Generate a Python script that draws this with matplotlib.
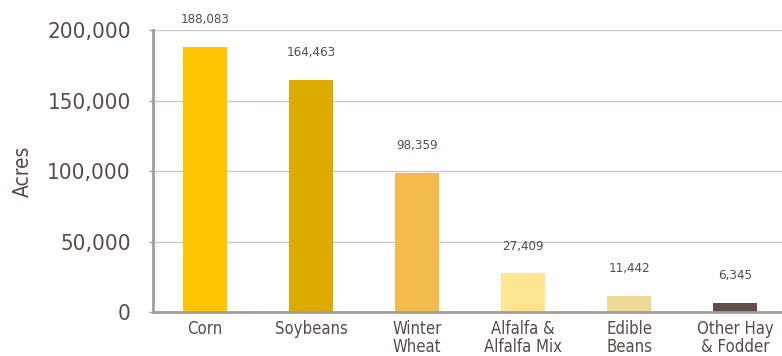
import matplotlib.pyplot as plt
from matplotlib.ticker import FuncFormatter

crops = ["Corn", "Soybeans", "Winter\nWheat", "Alfalfa &\nAlfalfa Mix", "Edible\nBeans", "Other Hay\n& Fodder"]
acres = [188083, 164463, 98359, 27409, 11442, 6345]
colors = ["#FFC600", "#DDAA00", "#F3BB4B", "#FDE591", "#EFDA95", "#5E4F4B"]

txt = "#5a4b48"
grid = "#cdc6c3"
spine = "#a59d9a"

plt.rcParams['font.family'] = ['DejaVu Sans']
plt.rcParams['font.stretch'] = 'condensed'

fig = plt.figure(figsize=(7.82, 3.56), dpi=100)
ax = fig.add_axes([0.1957, 0.1236, 0.8043, 0.7921])

x = range(len(crops))
bars = ax.bar(x, acres, width=0.415, color=colors, zorder=3)

for b, v in zip(bars, acres):
    ax.annotate(f"{v:,}", (b.get_x() + b.get_width() / 2, v), xytext=(0, 15),
                textcoords="offset points", ha="center", va="bottom",
                fontsize=9.5, color=txt)

ax.set_xlim(-0.49, 5.44)
ax.set_ylim(0, 200000)
ax.set_yticks([0, 50000, 100000, 150000, 200000])
ax.yaxis.set_major_formatter(FuncFormatter(lambda v, p: f"{int(v):,}"))
ax.set_xticks(list(x))
ax.set_xticklabels(crops, fontsize=12, color=txt, linespacing=1.0)
ax.tick_params(axis="x", length=0, pad=6)
ax.tick_params(axis="y", labelsize=16, colors=spine, labelcolor=txt, length=3, width=1, pad=13)
ax.set_ylabel("Acres", fontsize=15, color=txt, labelpad=10)

ax.grid(axis="y", color=grid, linewidth=1, zorder=0)
for s in ["top", "right"]:
    ax.spines[s].set_visible(False)
for s in ["left", "bottom"]:
    ax.spines[s].set_color(spine)
    ax.spines[s].set_linewidth(2)
    ax.spines[s].set_zorder(4)

fig.savefig("out.png", dpi=100)
